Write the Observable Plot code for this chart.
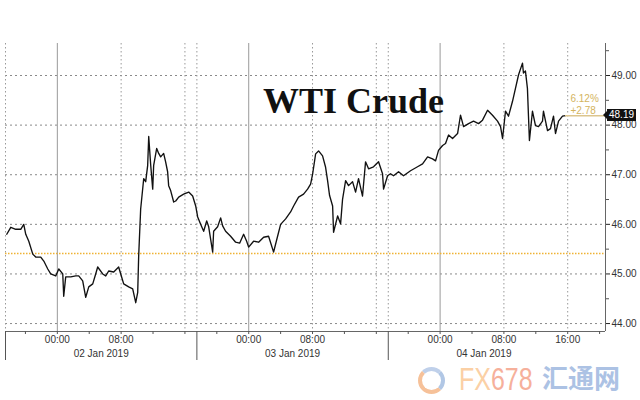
<!DOCTYPE html>
<html>
<head>
<meta charset="utf-8">
<script src="https://cdn.jsdelivr.net/npm/d3@7"></script>
<script src="https://cdn.jsdelivr.net/npm/@observablehq/plot@0.6"></script>
<style>
  body { margin: 0; background: #fff; }
  #wrap { position: relative; width: 640px; height: 400px; overflow: hidden; font-family: "Liberation Sans", Arial, sans-serif; }
  #wrap svg { position: absolute; left: 0; top: 0; }
  #title { position: absolute; left: 263px; top: 83px; font-family: "Liberation Serif", "DejaVu Serif", serif; font-weight: bold; font-size: 36px; line-height: 36px; color: #111; white-space: nowrap; }
  #lastbox { position: absolute; left: 607px; width: 29px; height: 12px; background: #111; color: #fff; font-size: 10px; line-height: 12px; text-align: center; }
  #lastarrow { position: absolute; left: 603px; width: 0; height: 0; border-top: 4px solid transparent; border-bottom: 4px solid transparent; border-right: 4px solid #111; }
  #logo { position: absolute; left: 418px; top: 367px; width: 19px; height: 19px; border-radius: 50%; border: 4px solid #f6bb8e; border-right-color: #a9c1e3; border-top-color: #b9cbe8; opacity: 0.9; }
  #fx { position: absolute; left: 459px; top: 367px; font-size: 32px; line-height: 24px; height: 24px; transform: scaleX(0.78); transform-origin: left top; white-space: nowrap; }
  #cn { position: absolute; left: 542px; top: 366px; font-family: "Noto Sans CJK SC", sans-serif; font-weight: bold; font-size: 26px; line-height: 22px; height: 22px; color: #acc2e4; white-space: nowrap; }
</style>
</head>
<body>
<div id="wrap"></div>
<script>
// Hours since 02 Jan 2019 00:00
const hours = [-6.34,-5.84,-5.21,-4.59,-4.21,-3.96,-3.58,-3.08,-2.71,-2.08,-1.70,-1.20,-0.83,-0.20,0.18,0.68,0.80,1.05,1.68,2.31,2.68,3.18,3.56,3.94,4.44,4.81,5.06,5.69,6.07,6.44,7.07,7.69,7.95,8.32,8.95,9.45,9.83,10.08,10.20,10.45,10.83,11.08,11.33,11.46,11.71,11.96,12.08,12.46,12.71,12.96,13.33,13.58,13.83,13.96,14.21,14.59,14.84,15.22,15.84,16.47,16.97,17.35,17.60,17.97,18.35,18.73,18.98,19.48,19.60,20.10,20.48,20.73,21.10,21.73,22.36,22.86,23.36,23.74,23.99,24.61,25.24,25.87,26.49,27.12,27.62,28.00,28.63,29.25,29.63,30.25,30.88,31.38,31.76,32.01,32.39,32.76,33.26,33.64,33.89,34.14,34.52,34.64,35.15,35.52,35.77,36.15,36.52,37.02,37.40,37.77,38.27,38.65,39.03,39.65,40.28,40.78,40.91,41.41,41.78,42.16,42.79,43.41,44.29,45.17,45.80,46.43,47.05,47.43,47.80,48.31,48.68,49.06,49.56,50.19,50.56,50.94,51.57,52.19,52.82,53.32,53.95,54.57,55.20,55.58,55.83,56.20,56.58,57.08,57.45,57.83,58.33,58.45,58.70,58.95,59.08,59.20,59.58,59.96,60.34,60.84,60.96,61.47,61.84,62.22,62.47,62.85,63.35,63.72];
const prices = [45.80,45.94,45.90,45.90,46.00,45.80,45.66,45.40,45.34,45.34,45.26,45.10,45.00,44.96,45.10,45.00,44.55,44.94,44.94,44.96,44.96,44.86,44.53,44.74,44.80,45.00,45.14,45.00,44.96,45.06,45.04,45.14,45.00,44.80,44.74,44.70,44.42,44.63,45.36,46.31,46.92,46.86,47.19,47.77,47.19,46.71,47.19,47.53,47.43,47.36,47.43,47.26,47.06,46.78,46.68,46.45,46.47,46.55,46.61,46.65,46.57,46.37,46.15,46.00,45.86,46.07,45.95,45.44,45.86,45.95,46.13,45.97,45.86,45.76,45.64,45.62,45.80,45.66,45.54,45.66,45.64,45.74,45.76,45.44,45.76,46.00,46.11,46.25,46.37,46.55,46.61,46.71,46.81,47.01,47.42,47.48,47.38,47.15,46.88,46.58,46.37,45.84,46.17,46.01,46.51,46.88,46.78,46.86,46.65,46.92,46.57,47.26,47.12,47.16,47.26,47.02,46.71,46.98,47.02,46.98,47.06,46.98,47.08,47.16,47.22,47.36,47.32,47.28,47.49,47.59,47.63,47.80,47.73,47.83,48.20,47.97,48.03,48.08,48.03,48.10,48.30,48.20,48.08,47.97,47.73,48.28,48.18,48.48,48.74,49.01,49.25,49.05,49.09,48.74,48.19,47.69,48.28,47.99,47.97,48.08,48.28,47.89,47.93,48.18,47.83,48.08,48.18,48.19];

const lastPrice = 48.19;
const prevClose = 45.41;

const yTicks = [44, 45, 46, 47, 48, 49];
const yMinorTicks = [44.5, 45.5, 46.5, 47.5, 48.5, 49.5];
const hourTicks = [0, 8, 24, 32, 48, 56, 64];
const hourTickLabels = ["00:00", "08:00", "00:00", "08:00", "00:00", "08:00", "16:00"];
const midnightHours = [0, 24, 48];
const dottedHours = [8, 16, 32, 40, 56, 64];
const sessionStarts = [-6.5, 17.5, 41.5];
const fourHourTicks = [-4, 0, 4, 8, 12, 16, 20, 24, 28, 32, 36, 40, 44, 48, 52, 56, 60, 64, 68];
const dateLabelHours = [5.5, 29.5, 53.5];
const dateLabels = ["02 Jan 2019", "03 Jan 2019", "04 Jan 2019"];

const xDomain = [-6.5, 68.74];
const yDomain = [43.84, 49.645];

const data = hours.map((h, i) => ({h, p: prices[i]}));
const lastHour = hours[hours.length - 1];
const change = lastPrice - prevClose;
const pct = change / prevClose * 100;

const axisFont = {fontFamily: "Liberation Sans, Arial, sans-serif", fontSize: 10, fill: "#333"};

const chart = Plot.plot({
  width: 640,
  height: 400,
  marginLeft: 5,
  marginRight: 35,
  marginTop: 43,
  marginBottom: 69,
  x: {type: "linear", domain: xDomain},
  y: {domain: yDomain},
  style: {fontFamily: "Liberation Sans, Arial, sans-serif", fontSize: "10px", color: "#333", background: "transparent"},
  marks: [
    Plot.gridY(yTicks, {stroke: "#8a8a8a", strokeOpacity: 1, strokeDasharray: "2,3"}),
    Plot.gridX(midnightHours, {stroke: "#999", strokeOpacity: 1}),
    Plot.gridX(dottedHours, {stroke: "#999", strokeOpacity: 1, strokeDasharray: "1.5,2.5"}),
    Plot.gridX(sessionStarts, {stroke: "#999", strokeOpacity: 1, strokeDasharray: "1.5,2.5"}),
    Plot.ruleY([prevClose], {stroke: "#efb233", strokeWidth: 1.5, strokeDasharray: "1.5,1.5"}),
    Plot.line(data, {x: "h", y: "p", stroke: "#111", strokeWidth: 1.35}),
    Plot.ruleY([lastPrice], {x1: lastHour, x2: xDomain[1], stroke: "#dcc58e", strokeWidth: 1.5}),
    Plot.text([pct.toFixed(2) + "%"], {x: lastHour, y: lastPrice, dx: 5, dy: -17, textAnchor: "start", fill: "#d4b45e", fontSize: 10}),
    Plot.text(["+" + change.toFixed(2)], {x: lastHour, y: lastPrice, dx: 5, dy: -5, textAnchor: "start", fill: "#d4b45e", fontSize: 10}),
    Plot.ruleX([xDomain[1]], {stroke: "#666", strokeWidth: 1}),
    Plot.ruleY([yDomain[0]], {stroke: "#666", strokeWidth: 1}),
    Plot.axisY(yTicks, {anchor: "right", tickSize: 4, tickPadding: 2, tickFormat: d3.format(".2f"), label: null, stroke: "#222", ...axisFont}),
    Plot.axisY(yMinorTicks, {anchor: "right", tickSize: 3, text: null, label: null, stroke: "#555"}),
    Plot.axisX(hourTicks, {tickSize: 0, tickPadding: 4, tickFormat: h => hourTickLabels[hourTicks.indexOf(h)], label: null, ...axisFont}),
    Plot.axisX(fourHourTicks, {tickSize: 3, text: null, label: null, stroke: "#555"}),
    Plot.axisX(sessionStarts, {tickSize: 29, text: null, label: null, stroke: "#555"}),
    Plot.axisX(dateLabelHours, {tickSize: 0, tickPadding: 18, tickFormat: h => dateLabels[dateLabelHours.indexOf(h)], label: null, ...axisFont})
  ]
});

const wrap = document.getElementById("wrap");
wrap.appendChild(chart);

const title = document.createElement("div");
title.id = "title";
title.textContent = "WTI Crude";
wrap.appendChild(title);

const yLast = chart.scale("y").apply(lastPrice);
const box = document.createElement("div");
box.id = "lastbox";
box.style.top = (yLast - 6) + "px";
box.textContent = lastPrice.toFixed(2);
wrap.appendChild(box);
const arrow = document.createElement("div");
arrow.id = "lastarrow";
arrow.style.top = (yLast - 4) + "px";
wrap.appendChild(arrow);

const logo = document.createElement("div");
logo.id = "logo";
wrap.appendChild(logo);
const fx = document.createElement("div");
fx.id = "fx";
fx.innerHTML = '<span style="color:#fbd0a5">FX</span><span style="color:#f6b09b">678</span>';
wrap.appendChild(fx);
const cn = document.createElement("div");
cn.id = "cn";
cn.textContent = "汇通网";
wrap.appendChild(cn);
</script>
</body>
</html>
